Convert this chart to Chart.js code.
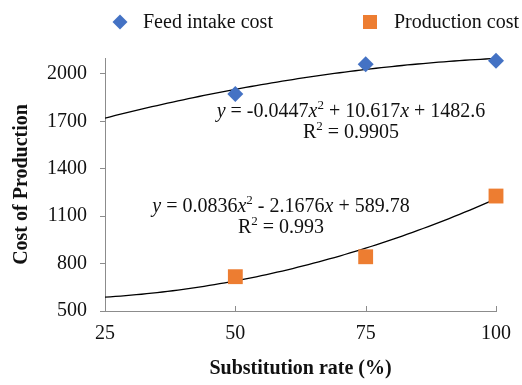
<!DOCTYPE html>
<html>
<head>
<meta charset="utf-8">
<script src="https://cdn.jsdelivr.net/npm/chart.js"></script>
<style>
  html, body { margin: 0; padding: 0; background: #fff; }
  #wrap { width: 522px; height: 385px; }
</style>
</head>
<body>
<div id="wrap"><canvas id="costChart" width="522" height="385"></canvas></div>
<script>
// Data
const rates = [50, 75, 100];
const feedCost = [1872, 2061, 2082];
const productionCost = [717, 843, 1227];
const seriesNames = ['Feed intake cost', 'Production cost'];

// Trendline equations printed on the chart: [a, b, c] for a*x^2 + b*x + c
const feedFit = [-0.0447, 10.617, 1482.6];
const prodFit = [0.0836, -2.1676, 589.78];
const feedR2 = '0.9905';
const prodR2 = '0.993';

const xTicks = [25, 50, 75, 100];
const yTicks = [500, 800, 1100, 1400, 1700, 2000];

const SERIF = '"Liberation Serif", "Times New Roman", serif';
const BLUE = '#4472C4';
const ORANGE = '#ED7D31';
const AXIS = '#8c8c8c';

function fitCurve(coef) {
    const pts = [];
    for (let x = xTicks[0]; x <= xTicks[xTicks.length - 1]; x++) {
        pts.push({ x: x, y: coef[0] * x * x + coef[1] * x + coef[2] });
    }
    return pts;
}

function num(v) { return Math.abs(v).toString(); }
function sign(v) { return v < 0 ? ' - ' : ' + '; }

function equationParts(coef) {
    return [
        ['y', 'i'], [' = ' + (coef[0] < 0 ? '-' : '') + num(coef[0]), 'n'], ['x', 'i'], ['2', 's'],
        [sign(coef[1]) + num(coef[1]), 'n'], ['x', 'i'], [sign(coef[2]) + num(coef[2]), 'n']
    ];
}
function r2Parts(r2) {
    return [['R', 'n'], ['2', 's'], [' = ' + r2, 'n']];
}

function fontFor(style) {
    if (style === 'i') return 'italic 20px ' + SERIF;
    if (style === 's') return '13px ' + SERIF;
    return '20px ' + SERIF;
}

function drawRich(ctx, parts, cx, cy) {
    let total = 0;
    parts.forEach(p => { ctx.font = fontFor(p[1]); total += ctx.measureText(p[0]).width; });
    let x = cx - total / 2;
    parts.forEach(p => {
        ctx.font = fontFor(p[1]);
        ctx.fillText(p[0], x, p[1] === 's' ? cy - 6 : cy);
        x += ctx.measureText(p[0]).width;
    });
}

// equations, legend and inward x ticks
const extras = {
    id: 'extras',
    afterDraw(chart) {
        const ctx = chart.ctx;
        const xs = chart.scales.x;
        const ys = chart.scales.y;
        ctx.save();

        // inward tick marks on the x axis
        ctx.strokeStyle = AXIS;
        ctx.lineWidth = 1;
        xTicks.forEach(v => {
            const px = Math.round(xs.getPixelForValue(v)) + 0.5;
            ctx.beginPath();
            ctx.moveTo(px, ys.bottom);
            ctx.lineTo(px, ys.bottom - 5);
            ctx.stroke();
        });

        ctx.fillStyle = '#111';
        ctx.textBaseline = 'middle';
        ctx.textAlign = 'left';
        drawRich(ctx, equationParts(feedFit), 351, 112);
        drawRich(ctx, r2Parts(feedR2), 351, 133);
        drawRich(ctx, equationParts(prodFit), 281, 207);
        drawRich(ctx, r2Parts(prodR2), 281, 228);

        // legend
        const ly = 22;
        ctx.fillStyle = BLUE;
        ctx.beginPath();
        ctx.moveTo(120, ly - 7.5);
        ctx.lineTo(127.5, ly);
        ctx.lineTo(120, ly + 7.5);
        ctx.lineTo(112.5, ly);
        ctx.closePath();
        ctx.fill();
        ctx.fillStyle = ORANGE;
        ctx.fillRect(363, ly - 7, 14, 14);
        ctx.fillStyle = '#111';
        ctx.font = '20px ' + SERIF;
        ctx.fillText(seriesNames[0], 143, ly + 1);
        ctx.fillText(seriesNames[1], 394, ly + 1);
        ctx.restore();
    }
};

new Chart(document.getElementById('costChart'), {
    type: 'scatter',
    data: {
        datasets: [
            {
                label: seriesNames[0],
                data: rates.map((r, i) => ({ x: r, y: feedCost[i] })),
                pointStyle: 'rectRot',
                pointRadius: 8,
                pointHoverRadius: 8,
                backgroundColor: BLUE,
                borderColor: BLUE,
                borderWidth: 0,
                clip: false
            },
            {
                label: seriesNames[1],
                data: rates.map((r, i) => ({ x: r, y: productionCost[i] })),
                pointStyle: 'rect',
                pointRadius: 10.5,
                pointHoverRadius: 10.5,
                backgroundColor: ORANGE,
                borderColor: ORANGE,
                borderWidth: 0,
                clip: false
            },
            {
                type: 'line',
                label: 'Feed trend',
                data: fitCurve(feedFit),
                borderColor: '#000',
                borderWidth: 1.3,
                pointRadius: 0,
                tension: 0,
                fill: false
            },
            {
                type: 'line',
                label: 'Production trend',
                data: fitCurve(prodFit),
                borderColor: '#000',
                borderWidth: 1.3,
                pointRadius: 0,
                tension: 0,
                fill: false
            }
        ]
    },
    options: {
        responsive: false,
        animation: false,
        devicePixelRatio: 1,
        layout: { padding: { top: 58, right: 24, left: 0, bottom: 0 } },
        plugins: {
            legend: { display: false },
            tooltip: { enabled: false }
        },
        scales: {
            x: {
                type: 'linear',
                min: 25,
                max: 100,
                afterBuildTicks: s => { s.ticks = xTicks.map(v => ({ value: v })); },
                afterFit: s => { s.height = 74; },
                grid: { drawOnChartArea: false, drawTicks: false },
                border: { color: AXIS, width: 1 },
                ticks: { color: '#111', padding: 11, font: { family: SERIF, size: 20 }, callback: v => String(v) },
                title: {
                    display: true,
                    text: 'Substitution rate (%)',
                    color: '#111',
                    font: { family: SERIF, size: 20, weight: 'bold' },
                    padding: { top: 0, bottom: 4 }
                }
            },
            y: {
                min: 500,
                max: 2100,
                afterBuildTicks: s => { s.ticks = yTicks.map(v => ({ value: v })); },
                afterFit: s => { s.width = 105; },
                grid: { drawOnChartArea: false, drawTicks: true, tickLength: 5, color: AXIS },
                border: { color: AXIS, width: 1 },
                ticks: { color: '#111', padding: 13, font: { family: SERIF, size: 20 }, callback: v => String(v) },
                title: {
                    display: true,
                    text: 'Cost of Production',
                    color: '#111',
                    font: { family: SERIF, size: 20, weight: 'bold' },
                    padding: { top: 10, bottom: 0 }
                }
            }
        }
    },
    plugins: [extras]
});
</script>
</body>
</html>
